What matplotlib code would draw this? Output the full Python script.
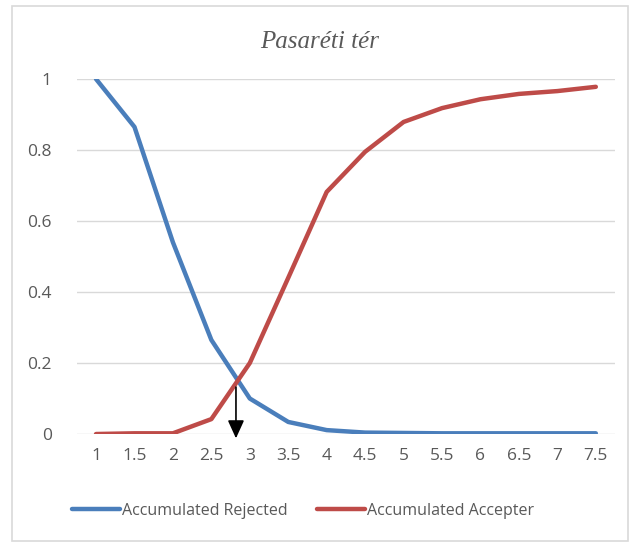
import matplotlib.pyplot as plt
from matplotlib.patches import Rectangle

x = [1, 1.5, 2, 2.5, 3, 3.5, 4, 4.5, 5, 5.5, 6, 6.5, 7, 7.5]
rejected = [1.0, 0.865, 0.54, 0.265, 0.10, 0.034, 0.011, 0.004, 0.003, 0.002, 0.002, 0.002, 0.002, 0.002]
accepted = [0.0, 0.002, 0.002, 0.042, 0.20, 0.44, 0.682, 0.795, 0.879, 0.918, 0.943, 0.958, 0.966, 0.978]
cross_x = 2.82
cross_y = 0.14

fig = plt.figure(figsize=(6.4, 5.43), dpi=100)
ax = fig.add_axes([0.120, 0.2007, 0.841, 0.6538])

fig.patches.append(Rectangle((12/640, 0.003), 616/640, 1 - 6/543 - 0.003, transform=fig.transFigure,
                             fill=False, edgecolor="#d9d9d9", linewidth=1.2))

ax.plot(x, rejected, color="#4A7EBB", linewidth=3.2, solid_capstyle="round", label="Accumulated Rejected")
ax.plot(x, accepted, color="#BE4B48", linewidth=3.2, solid_capstyle="round", label="Accumulated Accepter")

ax.annotate("", xy=(cross_x, -0.02), xytext=(cross_x, cross_y),
            arrowprops=dict(arrowstyle="-|>,head_width=0.5,head_length=1.1", color="black", lw=1.2),
            annotation_clip=False)

ax.set_xlim(0.75, 7.75)
ax.set_ylim(0, 1)
ax.set_xticks(x)
ax.set_xticklabels([f"{v:g}" for v in x])
ax.set_yticks([0, 0.2, 0.4, 0.6, 0.8, 1])
ax.set_yticklabels(["0", "0.2", "0.4", "0.6", "0.8", "1"])
ax.grid(axis="y", color="#d9d9d9", linewidth=1)
ax.set_axisbelow(True)
for s in ax.spines.values():
    s.set_visible(False)
ax.tick_params(length=0, labelsize=12.5, labelcolor="#595959", pad=10)
ax.tick_params(axis="y", pad=18)
for lbl in ax.get_xticklabels() + ax.get_yticklabels():
    lbl.set_fontfamily("Open Sans")

fig.text(0.5, 1 - 42/543, "Pasaréti tér", ha="center", va="center", fontsize=18,
         family="Liberation Serif", style="italic", color="#595959")

fig.legend(loc="center", bbox_to_anchor=(303/640, 1 - 511/543), ncol=2, frameon=False,
           prop={"family": "Open Sans", "size": 11.5}, labelcolor="#595959",
           handlelength=3.0, handletextpad=0.15, columnspacing=1.8)

fig.savefig("out.png", dpi=100)
